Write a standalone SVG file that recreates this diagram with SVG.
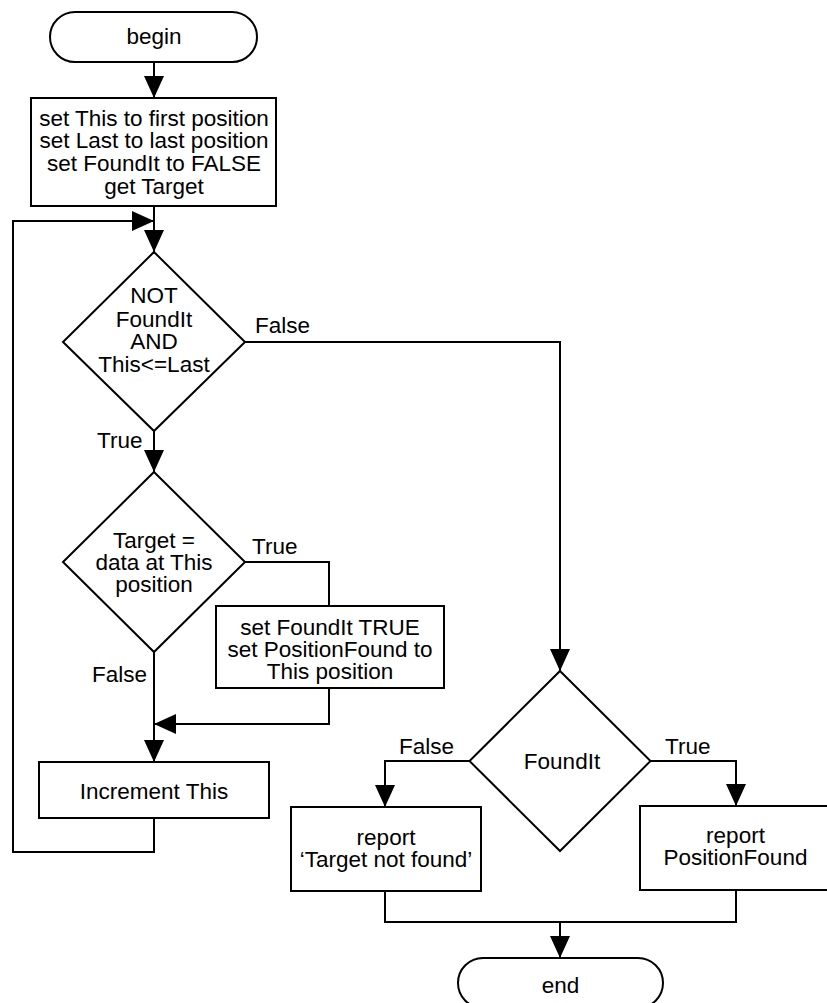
<svg xmlns="http://www.w3.org/2000/svg" width="827" height="1003" viewBox="0 0 827 1003">
  <defs>
    <marker id="arrow" markerUnits="userSpaceOnUse" markerWidth="22" markerHeight="20" refX="22" refY="10" orient="auto">
      <path d="M0,0 L22,10 L0,20 z" fill="#000"/>
    </marker>
    <style>
      .shape { fill: #fff; stroke: #000; stroke-width: 2; }
      .wire { fill: none; stroke: #000; stroke-width: 2; }
      .arr { marker-end: url(#arrow); }
      text { font-family: "Liberation Sans", Arial, Helvetica, sans-serif; font-size: 22.5px; fill: #000; }
      .c { text-anchor: middle; }
    </style>
  </defs>
  <rect width="827" height="1003" fill="#fff"/>

  <!-- connectors -->
  <g id="connectors">
    <path class="wire arr" d="M154,62 L154,98"/>
    <path class="wire arr" d="M154,206 L154,252"/>
    <path class="wire arr" d="M154,818 L154,852 L13,852 L13,221 L154,221"/>
    <path class="wire arr" d="M154,431 L154,472"/>
    <path class="wire arr" d="M245,342 L560,342 L560,671"/>
    <path class="wire" d="M245,562 L329,562 L329,606"/>
    <path class="wire arr" d="M329,688 L329,724 L154,724"/>
    <path class="wire arr" d="M154,652 L154,762"/>
    <path class="wire arr" d="M469.5,761 L385,761 L385,807"/>
    <path class="wire arr" d="M650.5,761 L736,761 L736,806"/>
    <path class="wire" d="M385,891 L385,922 L736,922 L736,890"/>
    <path class="wire arr" d="M560,922 L560,958"/>
    <text x="255" y="333">False</text>
    <text x="97" y="447.7">True</text>
    <text x="252" y="554.3">True</text>
    <text x="92" y="681.7">False</text>
    <text x="399" y="754.3">False</text>
    <text x="665" y="754.3">True</text>
  </g>

  <g id="begin">
    <rect class="shape" x="50" y="12" width="207" height="50" rx="25" ry="25"/>
    <text class="c" x="154" y="43.5">begin</text>
  </g>

  <g id="init">
    <rect class="shape" x="31" y="98" width="245" height="108"/>
    <text class="c" x="154" y="125.7">set This to first position</text>
    <text class="c" x="154" y="148.3">set Last to last position</text>
    <text class="c" x="154" y="171.3">set FoundIt to FALSE</text>
    <text class="c" x="154" y="193.5">get Target</text>
  </g>

  <g id="loop-test">
    <polygon class="shape" points="154,252 245,342 154,431 63,342"/>
    <text class="c" x="154" y="303.3">NOT</text>
    <text class="c" x="154" y="326.7">FoundIt</text>
    <text class="c" x="154" y="349.3">AND</text>
    <text class="c" x="154" y="371.7">This&lt;=Last</text>
  </g>

  <g id="match-test">
    <polygon class="shape" points="154,472 245,562 154,652 63,562"/>
    <text class="c" x="154" y="548.3">Target =</text>
    <text class="c" x="154" y="570">data at This</text>
    <text class="c" x="154" y="592">position</text>
  </g>

  <g id="set-found">
    <rect class="shape" x="216" y="606" width="228" height="82"/>
    <text class="c" x="330" y="634.5">set FoundIt TRUE</text>
    <text class="c" x="330" y="657">set PositionFound to</text>
    <text class="c" x="330" y="679.3">This position</text>
  </g>

  <g id="increment">
    <rect class="shape" x="39" y="762" width="230" height="56"/>
    <text class="c" x="154" y="799.3">Increment This</text>
  </g>

  <g id="found-test">
    <polygon class="shape" points="560,671 650.5,761 560,851 469.5,761"/>
    <text class="c" x="562" y="769.3">FoundIt</text>
  </g>

  <g id="report-missing">
    <rect class="shape" x="291" y="807" width="190" height="84"/>
    <text class="c" x="386" y="845">report</text>
    <text class="c" x="386" y="866.7">‘Target not found’</text>
  </g>

  <g id="report-found">
    <rect class="shape" x="640" y="806" width="191" height="84"/>
    <text class="c" x="735.5" y="843.3">report</text>
    <text class="c" x="735.5" y="865">PositionFound</text>
  </g>

  <g id="end">
    <rect class="shape" x="458" y="958" width="205" height="50" rx="25" ry="25"/>
    <text class="c" x="560.5" y="992.7">end</text>
  </g>
</svg>
